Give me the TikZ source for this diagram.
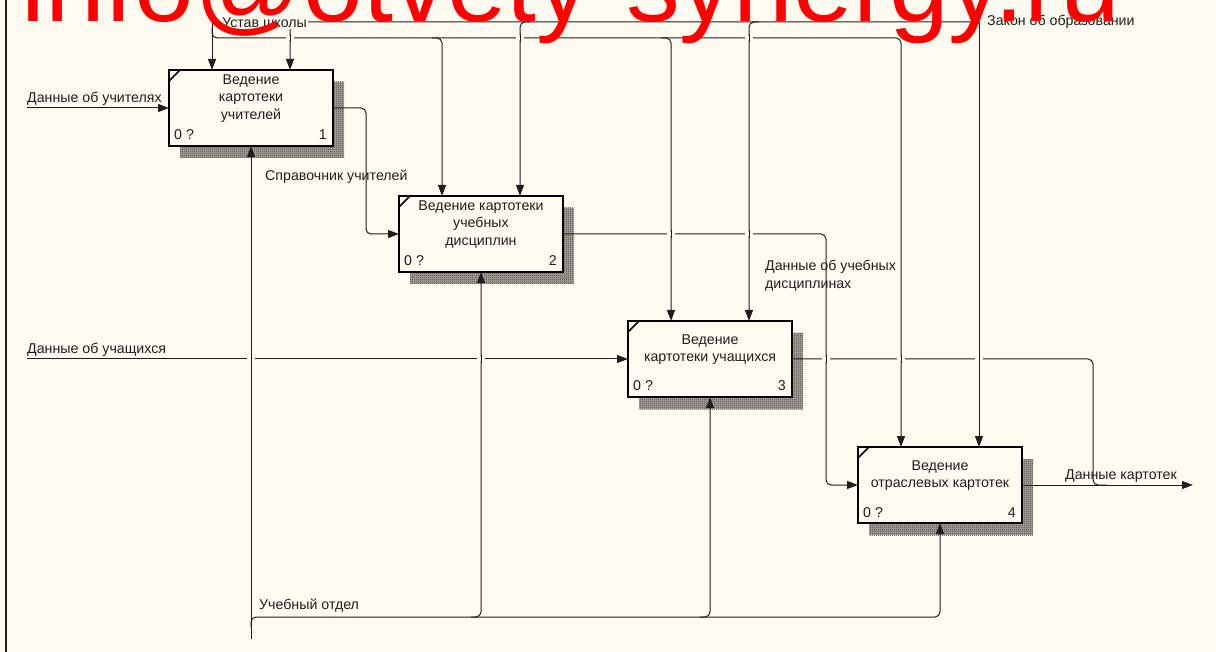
\documentclass[tikz,border=0pt]{standalone}
\usepackage{fontspec}
\setmainfont{Liberation Sans}
\usetikzlibrary{arrows.meta,calc,patterns,shadows}
\definecolor{paper}{RGB}{255,251,240}
\definecolor{ink}{RGB}{30,30,30}
\definecolor{stamp}{RGB}{255,0,0}

% fine checkerboard used for the box shadows
\pgfdeclarepatternformonly{checker}{\pgfpointorigin}{\pgfqpoint{2pt}{2pt}}{\pgfqpoint{2pt}{2pt}}{%
  \pgfpathrectangle{\pgfpointorigin}{\pgfqpoint{1pt}{1pt}}%
  \pgfpathrectangle{\pgfqpoint{1pt}{1pt}}{\pgfqpoint{1pt}{1pt}}%
  \pgfusepath{fill}}

% break a horizontal line where a vertical one passes over it
\newcommand{\crossgap}[1]{%
  \fill[paper] ($#1+(-4,-1.6)$) rectangle ($#1+(4,1.6)$);
  \draw[conn] ($#1+(0,-4)$) -- ($#1+(0,4)$);}

\tikzset{
  conn/.style={draw=ink, line width=1pt},
  tip/.style={-{Triangle[length=11pt,width=8pt]}},
  roundbend/.style={rounded corners=5pt},
  box/.style={draw=black, line width=2pt, fill=paper, minimum width=164pt,
    minimum height=76pt, inner sep=0pt, outer sep=0pt,
    general shadow={shadow xshift=11pt, shadow yshift=-12pt,
      fill=black!35!paper, postaction={pattern=checker, pattern color=black!75}}},
  lbl/.style={font=\fontsize{14.2}{17.5}\selectfont, inner sep=0pt, text=ink},
}

\begin{document}
\begin{tikzpicture}[x=1pt,y=-1pt]
\fill[paper] (0,0) rectangle (1216,652);
\useasboundingbox (0,0) rectangle (1216,652);
\draw[ink, line width=1.5pt] (6,0) -- (6,652);

% activity boxes
\node[box] (b1) at (251,108) {};
\node[box] (b2) at (481,234) {};
\node[box] (b3) at (710,359) {};
\node[box] (b4) at (940,485) {};

\foreach \b/\n/\t in {b1/1/{Ведение\\картотеки\\учителей},
                      b2/2/{Ведение картотеки\\учебных\\дисциплин},
                      b3/3/{Ведение\\картотеки учащихся},
                      b4/4/{Ведение\\отраслевых картотек}}{
  \draw[black, line width=1.5pt] ([yshift=-11pt]\b.north west) -- ([xshift=11pt]\b.north west);
  \node[lbl, align=center] (\b-title) at ([yshift=9.5pt]\b.center) {\t};
  \node[lbl, anchor=base west] (\b-cost) at ([xshift=5pt,yshift=6pt]\b.south west) {0 ?};
  \node[lbl, anchor=base east] (\b-num) at ([xshift=-6pt,yshift=6pt]\b.south east) {\n};
}

% control entry points on the tops of the boxes
\foreach \b in {b1,b2,b3,b4}{
  \coordinate (\b cL) at ([xshift=-39pt]\b.north);
  \coordinate (\b cR) at ([xshift=39pt]\b.north);
}

% reference levels and columns
\coordinate (yS) at (0,14);
\coordinate (yZ) at (0,22);
\coordinate (yUb) at (0,28);
\coordinate (yU) at (0,38);
\coordinate (yMb) at (0,627);
\coordinate (yM) at (0,617);
\coordinate (yE) at (0,639);
\coordinate (xL) at (27,0);
\coordinate (xO1) at (366,0);
\coordinate (xO2) at (826,0);
\coordinate (xO3) at (1093,0);
\coordinate (xEnd) at (1193,0);

% controls: Устав школы
\draw[conn,tip] (b1cL |- yS) -- (b1cL);
\draw[conn,tip,roundbend] (b1cL |- yUb) -- (b1cL |- yU) -- (b4cL |- yU) -- (b4cL);
\draw[conn,tip,roundbend] ($(b2cL |- yU)+(-10,0)$) -- (b2cL |- yU) -- (b2cL);
\draw[conn,tip,roundbend] ($(b3cL |- yU)+(-10,0)$) -- (b3cL |- yU) -- (b3cL);

% controls: Закон об образовании
\draw[conn,tip] (b4cR |- yZ) -- (b4cR);
\draw[conn,tip,roundbend] (b4cR |- yZ) -- (b1cR |- yZ) -- (b1cR);
\draw[conn,tip,roundbend] ($(b2cR |- yZ)+(10,0)$) -- (b2cR |- yZ) -- (b2cR);
\draw[conn,tip,roundbend] ($(b3cR |- yZ)+(10,0)$) -- (b3cR |- yZ) -- (b3cR);

% mechanism: Учебный отдел
\draw[conn,tip] (b1.south |- yE) -- (b1.south);
\draw[conn,tip,roundbend] (b1.south |- yMb) -- (b1.south |- yM) -- (b4.south |- yM) -- (b4.south);
\draw[conn,tip,roundbend] ($(b2.south |- yM)+(-10,0)$) -- (b2.south |- yM) -- (b2.south);
\draw[conn,tip,roundbend] ($(b3.south |- yM)+(-10,0)$) -- (b3.south |- yM) -- (b3.south);

% inputs
\draw[conn,tip] (b1.west -| xL) -- (b1.west);
\draw[conn,tip] (b3.west -| xL) -- (b3.west);

% outputs
\draw[conn,tip,roundbend] (b1.east) -- (b1.east -| xO1) -- (b2.west -| xO1) -- (b2.west);
\draw[conn,tip,roundbend] (b2.east) -- (b2.east -| xO2) -- (b4.west -| xO2) -- (b4.west);
\draw[conn,roundbend] (b3.east) -- (b3.east -| xO3) -- (b4.east -| xO3) -- ($(b4.east -| xO3)+(14,0)$);
\draw[conn,tip] (b4.east) -- (b4.east -| xEnd);

% crossings
\crossgap{(b1cR |- yU)}
\crossgap{(b2cR |- yU)}
\crossgap{(b3cR |- yU)}
\crossgap{(b3cL |- b2.east)}
\crossgap{(b3cR |- b2.east)}
\crossgap{(b1.south |- b3.west)}
\crossgap{(b2.south |- b3.west)}
\crossgap{(xO2 |- b3.east)}
\crossgap{(b4cL |- b3.east)}
\crossgap{(b4cR |- b3.east)}

% arrow labels
\node[lbl, anchor=west] (lZakon) at (987,22) {Закон об образовании};
\node[lbl, anchor=west, fill=paper, inner sep=1pt] (lUstav) at (221,23) {Устав школы};
\node[lbl, anchor=west] (lTeach) at (27,99) {Данные об учителях};
\node[lbl, anchor=west] (lPupil) at (27,350) {Данные об учащихся};
\node[lbl, anchor=west] (lRef) at (265,177) {Справочник учителей};
\node[lbl, anchor=west, align=left] (lDisc) at (765,275.5) {Данные об учебных\\дисциплинах};
\node[lbl, anchor=west] (lCards) at (1065,476) {Данные картотек};
\node[lbl, anchor=west] (lDept) at (259,606) {Учебный отдел};

% red stamp across the top
\node[anchor=base west, inner sep=0pt, text=stamp, font=\fontsize{107.5}{107.5}\selectfont]
  (stampmark) at (21,22) {info@otvety-synergy.ru};
\end{tikzpicture}
\end{document}
